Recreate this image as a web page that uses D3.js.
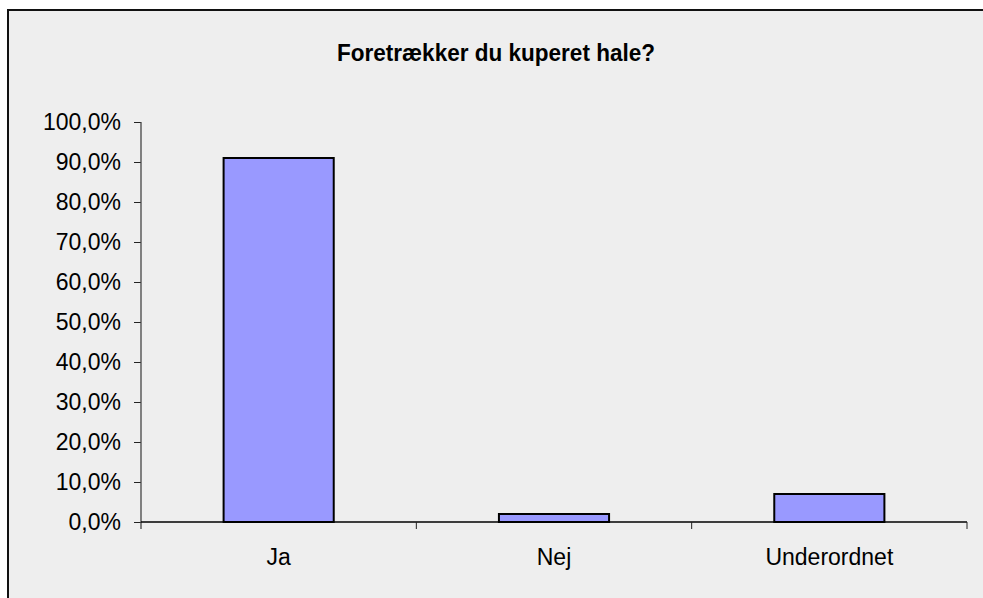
<!DOCTYPE html>
<html>
<head>
  <meta charset="utf-8">
  <title>Foretrækker du kuperet hale?</title>
  <script src="https://d3js.org/d3.v7.min.js"></script>
  <style>
    html, body {
      margin: 0;
      overflow: hidden;
      background: #fff;
      font-family: "Liberation Sans", Arial, sans-serif;
    }
    .tick-label {
      font-size: 23px;
      fill: #000;
    }
    .bar {
      fill: #9999ff;
      stroke: #000;
      stroke-width: 2;
    }
  </style>
</head>
<body>
  <div id="chart"></div>

  <script>
    // Data
    const title = "Foretrækker du kuperet hale?";
    const categories = ["Ja", "Nej", "Underordnet"];
    const values = [0.91, 0.02, 0.07];
    const yTicks = [0, 0.1, 0.2, 0.3, 0.4, 0.5, 0.6, 0.7, 0.8, 0.9, 1.0];
    const yTickLabels = ["0,0%", "10,0%", "20,0%", "30,0%", "40,0%", "50,0%",
                         "60,0%", "70,0%", "80,0%", "90,0%", "100,0%"];

    const W = 983, H = 598;
    const plot = { left: 141, right: 967, top: 122, bottom: 522 };

    const svg = d3.select("#chart")
      .append("svg")
      .attr("width", W)
      .attr("height", H)
      .style("display", "block");

    // chart area background; frame only on left and top (rest is cut off)
    svg.append("rect")
      .attr("x", 8)
      .attr("y", 10)
      .attr("width", W - 8)
      .attr("height", H - 10)
      .attr("fill", "#eeeeee");
    svg.append("path")
      .attr("d", `M8,${H}V10H${W}`)
      .attr("fill", "none")
      .attr("stroke", "#111")
      .attr("stroke-width", 2);

    // title
    svg.append("text")
      .attr("x", 496)
      .attr("y", 61)
      .attr("text-anchor", "middle")
      .attr("font-size", 23)
      .attr("font-weight", "bold")
      .attr("textLength", 318)
      .attr("lengthAdjust", "spacingAndGlyphs")
      .text(title);

    // scales
    const x = d3.scaleBand()
      .domain(categories)
      .range([plot.left, plot.right])
      .padding(0);

    const y = d3.scaleLinear()
      .domain([0, 1])
      .range([plot.bottom, plot.top]);

    // Y axis
    const yAxis = svg.append("g")
      .attr("transform", `translate(${plot.left},0)`)
      .call(d3.axisLeft(y)
        .tickValues(yTicks)
        .tickSize(7)
        .tickPadding(13)
        .tickFormat((d, i) => yTickLabels[i]));
    yAxis.select(".domain").remove();
    yAxis.selectAll(".tick line").attr("stroke", "#222");
    yAxis.selectAll(".tick text")
      .attr("class", "tick-label")
      .attr("font-family", null)
      .attr("font-size", null);
    svg.append("line")
      .attr("x1", plot.left).attr("x2", plot.left)
      .attr("y1", y(1)).attr("y2", plot.bottom + 7)
      .attr("stroke", "#444")
      .attr("stroke-width", 1.3);

    // bars
    const bw = x.bandwidth() * 0.4;
    svg.selectAll(".bar")
      .data(values)
      .enter().append("rect")
      .attr("class", "bar")
      .attr("x", (d, i) => x(categories[i]) + (x.bandwidth() - bw) / 2)
      .attr("y", d => y(d))
      .attr("width", bw)
      .attr("height", d => y(0) - y(d));

    // X axis: labels centred in bands, ticks at band edges
    const xAxis = svg.append("g")
      .attr("transform", `translate(0,${plot.bottom})`)
      .call(d3.axisBottom(x).tickSize(0).tickPadding(27));
    xAxis.select(".domain").remove();
    xAxis.selectAll(".tick text")
      .attr("class", "tick-label")
      .attr("font-family", null)
      .attr("font-size", null);

    svg.append("line")
      .attr("x1", plot.left).attr("x2", plot.right)
      .attr("y1", plot.bottom).attr("y2", plot.bottom)
      .attr("stroke", "#000")
      .attr("stroke-width", 1.3);

    const edges = categories.map(c => x(c)).concat([x.range()[1]]).slice(1);
    svg.selectAll(".xedge")
      .data(edges)
      .enter().append("line")
      .attr("class", "xedge")
      .attr("x1", d => d).attr("x2", d => d)
      .attr("y1", plot.bottom).attr("y2", plot.bottom + 7)
      .attr("stroke", "#222");
  </script>
</body>
</html>
